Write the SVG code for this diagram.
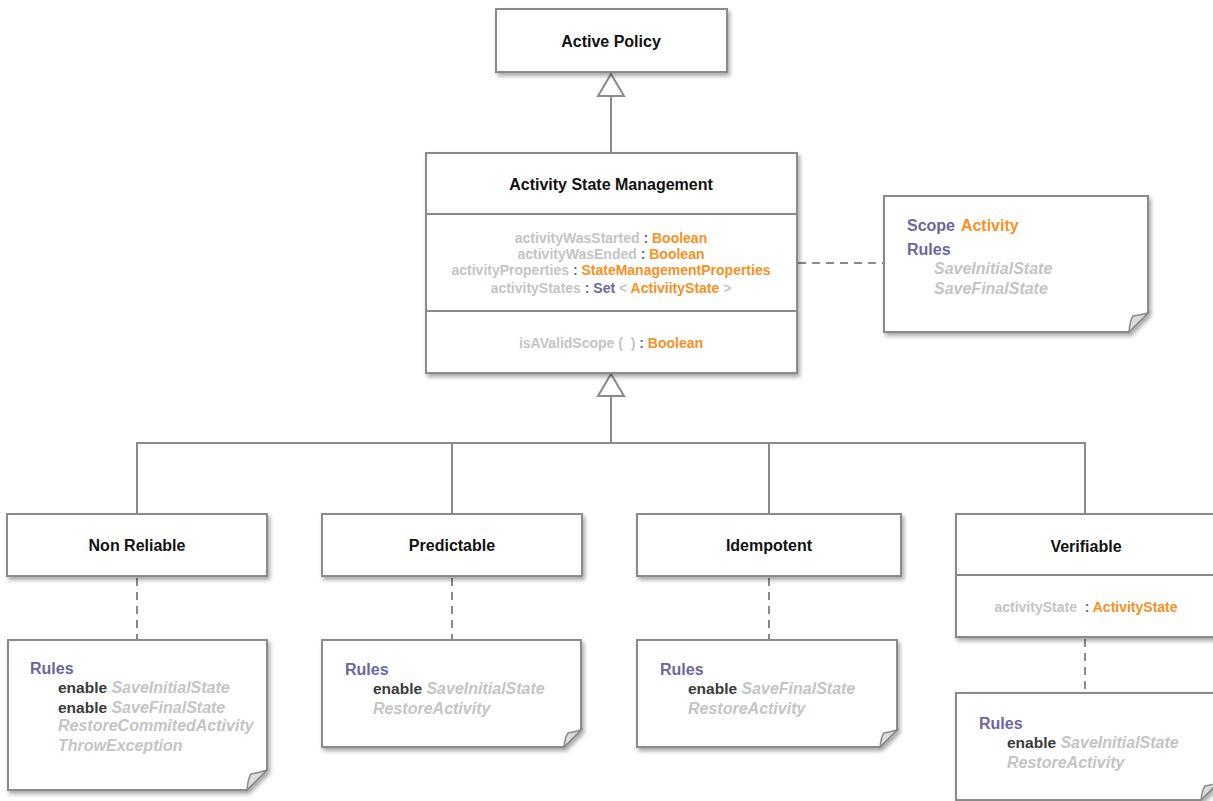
<svg xmlns="http://www.w3.org/2000/svg" width="1213" height="801" viewBox="0 0 1213 801">
<defs>
<filter id="sh" x="-10%" y="-10%" width="130%" height="140%">
<feDropShadow dx="2" dy="3" stdDeviation="2" flood-color="#000" flood-opacity="0.35"/>
</filter>
</defs>
<style>
.box{fill:#fff;stroke:#8a8a8a;stroke-width:2;filter:url(#sh)}
.div{stroke:#8a8a8a;stroke-width:2;fill:none}
.ln{stroke:#8a8a8a;stroke-width:2;fill:none}
.dash{stroke:#8a8a8a;stroke-width:2;fill:none;stroke-dasharray:8,6}
.tri{fill:#fff;stroke:#8a8a8a;stroke-width:2}
.fold{fill:#dcdcdc;stroke:#8a8a8a;stroke-width:1.5}
text{font-family:"Liberation Sans",Arial,sans-serif;font-weight:bold}
.title{font-size:16px;fill:#111;text-anchor:middle}
.attr{font-size:14px;text-anchor:middle;fill:#c4c4c4}
.p{fill:#6b66a0}
.o{fill:#f7901e}
.g{fill:#c4c4c4}
.kw{font-size:16px;fill:#6b66a0}
.en{font-size:15.5px;fill:#3a3a3a}
.it{font-size:16px;font-style:italic;fill:#c4c4c4}
</style>

<g id="connectors">
<line class="ln" x1="611" y1="96" x2="611" y2="153"/>
<polygon class="tri" points="611,74 624,96 598,96"/>
<line class="ln" x1="611" y1="396" x2="611" y2="443"/>
<polygon class="tri" points="611,374 624,396 598,396"/>
<polyline class="ln" points="137,514 137,443 1085,443 1085,514"/>
<line class="ln" x1="452" y1="443" x2="452" y2="514"/>
<line class="ln" x1="769" y1="443" x2="769" y2="514"/>
<line class="dash" x1="798" y1="263" x2="884" y2="263"/>
<line class="dash" x1="137" y1="578" x2="137" y2="640"/>
<line class="dash" x1="452" y1="578" x2="452" y2="640"/>
<line class="dash" x1="769" y1="578" x2="769" y2="640"/>
<line class="dash" x1="1085" y1="639" x2="1085" y2="693"/>
</g>

<g id="active-policy">
<rect class="box" x="496" y="9" width="231" height="63"/>
<text class="title" x="611" y="47">Active Policy</text>
</g>

<g id="activity-state-management">
<rect class="box" x="426" y="153" width="371" height="220"/>
<line class="div" x1="426" y1="214" x2="797" y2="214"/>
<line class="div" x1="426" y1="311" x2="797" y2="311"/>
<text class="title" x="611" y="190">Activity State Management</text>
<text class="attr" x="611" y="243">activityWasStarted <tspan class="p">:</tspan> <tspan class="o">Boolean</tspan></text>
<text class="attr" x="611" y="259">activityWasEnded <tspan class="p">:</tspan> <tspan class="o">Boolean</tspan></text>
<text class="attr" x="611" y="275">activityProperties <tspan class="p">:</tspan> <tspan class="o">StateManagementProperties</tspan></text>
<text class="attr" x="611" y="293">activityStates <tspan class="p">: Set</tspan> &lt; <tspan class="o">ActiviityState</tspan> &gt;</text>
<text class="attr" x="611" y="348" xml:space="preserve">isAValidScope (  ) <tspan class="p">:</tspan> <tspan class="o">Boolean</tspan></text>
</g>

<g id="scope-note">
<path class="box" d="M884,196 H1148 V313 L1129,332 H884 Z"/>
<path class="fold" d="M1148,313 L1129,332 Q1130,320 1133,316 Q1140,315 1148,313 Z"/>
<text class="kw" x="907" y="231">Scope <tspan class="o" dx="2">Activity</tspan></text>
<text class="kw" x="907" y="255">Rules</text>
<text class="it" x="934" y="274">SaveInitialState</text>
<text class="it" x="934" y="294">SaveFinalState</text>
</g>

<g id="non-reliable">
<rect class="box" x="7" y="514" width="260" height="62"/>
<text class="title" x="137" y="551">Non Reliable</text>
</g>

<g id="predictable">
<rect class="box" x="322" y="514" width="260" height="62"/>
<text class="title" x="452" y="551">Predictable</text>
</g>

<g id="idempotent">
<rect class="box" x="637" y="514" width="264" height="62"/>
<text class="title" x="769" y="551">Idempotent</text>
</g>

<g id="verifiable">
<rect class="box" x="956" y="514" width="262" height="123"/>
<line class="div" x1="956" y1="575" x2="1218" y2="575"/>
<text class="title" x="1086" y="552">Verifiable</text>
<text class="attr" x="1086" y="612" xml:space="preserve">activityState  <tspan class="p">:</tspan> <tspan class="o">ActivityState</tspan></text>
</g>

<g id="non-reliable-note">
<path class="box" d="M8,640 H267 V770 L247,790 H8 Z"/>
<path class="fold" d="M267,770 L247,790 Q248,778 251,774 Q258,773 267,770 Z"/>
<text class="kw" x="30" y="674">Rules</text>
<text class="en" x="58" y="693">enable <tspan class="it">SaveInitialState</tspan></text>
<text class="en" x="58" y="713">enable <tspan class="it">SaveFinalState</tspan></text>
<text class="it" x="58" y="731">RestoreCommitedActivity</text>
<text class="it" x="58" y="751">ThrowException</text>
</g>

<g id="predictable-note">
<path class="box" d="M322,640 H581 V730 L564,747 H322 Z"/>
<path class="fold" d="M581,730 L564,747 Q565,737 568,733 Q574,732 581,730 Z"/>
<text class="kw" x="345" y="675">Rules</text>
<text class="en" x="373" y="694">enable <tspan class="it">SaveInitialState</tspan></text>
<text class="it" x="373" y="714">RestoreActivity</text>
</g>

<g id="idempotent-note">
<path class="box" d="M637,640 H897 V730 L880,747 H637 Z"/>
<path class="fold" d="M897,730 L880,747 Q881,737 884,733 Q890,732 897,730 Z"/>
<text class="kw" x="660" y="675">Rules</text>
<text class="en" x="688" y="694">enable <tspan class="it">SaveFinalState</tspan></text>
<text class="it" x="688" y="714">RestoreActivity</text>
</g>

<g id="verifiable-note">
<path class="box" d="M956,693 H1218 V783 L1201,800 H956 Z"/>
<path class="fold" d="M1218,783 L1201,800 Q1202,790 1205,786 Q1211,785 1218,783 Z"/>
<text class="kw" x="979" y="729">Rules</text>
<text class="en" x="1007" y="748">enable <tspan class="it">SaveInitialState</tspan></text>
<text class="it" x="1007" y="768">RestoreActivity</text>
</g>
</svg>
